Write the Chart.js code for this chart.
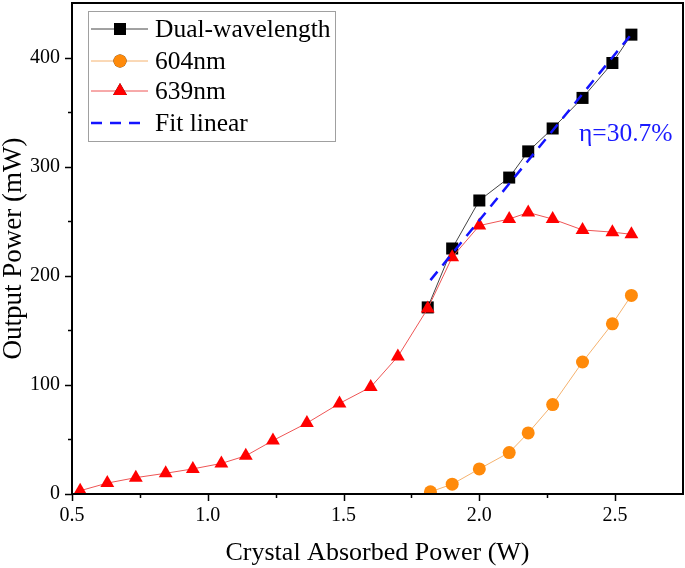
<!DOCTYPE html>
<html>
<head>
<meta charset="utf-8">
<script src="https://cdn.jsdelivr.net/npm/chart.js@4.4.1/dist/chart.umd.min.js"></script>
<style>
  html, body { margin: 0; padding: 0; background: #fff; }
  #wrap { width: 685px; height: 568px; }
</style>
</head>
<body>
<div id="wrap"><canvas id="c" width="685" height="568"></canvas></div>
<script>
// ---- data ----
const xDual = [1.81, 1.90, 2.00, 2.11, 2.18, 2.27, 2.38, 2.49, 2.56];
const pDual = [171, 225, 269, 290, 314, 335, 363, 395, 421];

const x604 = [1.82, 1.90, 2.00, 2.11, 2.18, 2.27, 2.38, 2.49, 2.56];
const p604 = [2, 9, 23, 38, 56, 82, 121, 156, 182];

const x639 = [0.53, 0.63, 0.735, 0.845, 0.945, 1.05, 1.14, 1.24, 1.365, 1.485, 1.60, 1.70, 1.81, 1.90, 2.00, 2.11, 2.18, 2.27, 2.38, 2.49, 2.56];
const p639 = [3, 10, 15, 19, 23, 28, 35, 49, 65, 83, 98, 126, 170, 217, 246, 252, 258, 252, 242, 240, 238];

const xFit = [1.82, 2.565];
const pFit = [196, 423];

const xTicks = [0.5, 1.0, 1.5, 2.0, 2.5];
const xMinorTicks = [0.75, 1.25, 1.75, 2.25];
const yTicks = [0, 100, 200, 300, 400];
const yMinorTicks = [50, 150, 250, 350];

const seriesNames = ['Dual-wavelength', '604nm', '639nm', 'Fit linear'];
const fitLabel = 'η=30.7%';

const pts = (xs, ys) => xs.map((x, i) => ({ x: x, y: ys[i] }));

const SERIF = '"Liberation Serif", "Times New Roman", serif';

const framePlugin = {
  id: 'frame',
  afterDatasetsDraw(chart) {
    const { ctx, chartArea: a, scales } = chart;
    const xs = scales.x, ys = scales.y;
    ctx.save();
    ctx.strokeStyle = '#000';
    ctx.lineWidth = 2;
    ctx.strokeRect(a.left, a.top, a.right - a.left, a.bottom - a.top);
    ctx.lineWidth = 1.5;
    ctx.beginPath();
    xTicks.forEach(v => { const px = Math.round(xs.getPixelForValue(v)) + 0.5; ctx.moveTo(px, a.bottom); ctx.lineTo(px, a.bottom + 7); });
    xMinorTicks.forEach(v => { const px = Math.round(xs.getPixelForValue(v)) + 0.5; ctx.moveTo(px, a.bottom); ctx.lineTo(px, a.bottom + 4); });
    yTicks.forEach(v => { const py = Math.round(ys.getPixelForValue(v)) + 0.5; ctx.moveTo(a.left, py); ctx.lineTo(a.left - 7, py); });
    yMinorTicks.forEach(v => { const py = Math.round(ys.getPixelForValue(v)) + 0.5; ctx.moveTo(a.left, py); ctx.lineTo(a.left - 4, py); });
    ctx.stroke();

    // annotation
    ctx.fillStyle = '#1a1aff';
    ctx.font = '25.5px ' + SERIF;
    ctx.textAlign = 'left';
    ctx.textBaseline = 'middle';
    ctx.fillText(fitLabel, 579, 134);

    // legend
    const lx = 88, ly = 11, lw = 247, lh = 130;
    ctx.fillStyle = '#fff';
    ctx.fillRect(lx, ly, lw, lh);
    ctx.strokeStyle = '#a0a0a0';
    ctx.lineWidth = 1;
    ctx.strokeRect(lx + 0.5, ly + 0.5, lw, lh);
    const rows = [29, 61, 91, 123];
    const ds = chart.data.datasets;
    rows.forEach((ry, i) => {
      const d = ds[i];
      ctx.save();
      ctx.strokeStyle = d.borderColor;
      ctx.lineWidth = d.borderWidth;
      ctx.setLineDash(d.borderDash || []);
      ctx.beginPath();
      ctx.moveTo(91, ry);
      ctx.lineTo(148, ry);
      ctx.stroke();
      ctx.restore();
      if (d.pointStyle && d.pointRadius > 0) {
        Chart.helpers.drawPoint(ctx, {
          pointStyle: d.pointStyle, radius: d.pointRadius, rotation: 0, borderWidth: 0
        }, 120, ry);
        ctx.fillStyle = d.pointBackgroundColor;
        ctx.fill();
      }
      ctx.fillStyle = '#000';
      ctx.font = '25.5px ' + SERIF;
      ctx.textAlign = 'left';
      ctx.textBaseline = 'middle';
      ctx.fillText(seriesNames[i], 155, ry + 1);
    });
    ctx.restore();
  }
};

new Chart(document.getElementById('c'), {
  type: 'scatter',
  data: {
    datasets: [
      {
        label: seriesNames[0], data: pts(xDual, pDual), showLine: true,
        borderColor: '#444', borderWidth: 1, pointStyle: 'rect', pointRadius: 8.5,
        pointBackgroundColor: '#000', pointBorderWidth: 0, order: 3
      },
      {
        label: seriesNames[1], data: pts(x604, p604), showLine: true,
        borderColor: '#f5b26e', borderWidth: 1, pointStyle: 'circle', pointRadius: 6.5,
        pointBackgroundColor: '#ff8a0a', pointBorderWidth: 0, order: 2
      },
      {
        label: seriesNames[2], data: pts(x639, p639), showLine: true,
        borderColor: '#ee5555', borderWidth: 1, pointStyle: 'triangle', pointRadius: 8,
        pointBackgroundColor: '#ff0000', pointBorderWidth: 0, order: 1
      },
      {
        label: seriesNames[3], data: pts(xFit, pFit), showLine: true,
        borderColor: '#1414ff', borderWidth: 2.5, borderDash: [11, 8], pointRadius: 0,
        pointStyle: false, order: 0
      }
    ]
  },
  options: {
    responsive: false,
    animation: false,
    devicePixelRatio: 1,
    layout: { autoPadding: false, padding: { top: 3, right: 2, left: 0, bottom: 0 } },
    plugins: { legend: { display: false }, tooltip: { enabled: false } },
    scales: {
      x: {
        type: 'linear', min: 0.5, max: 2.75,
        afterBuildTicks: s => { s.ticks = xTicks.map(v => ({ value: v })); },
        afterFit: s => { s.height = 74; s.paddingLeft = 0; s.paddingRight = 0; },
        grid: { display: false, drawTicks: false },
        border: { display: false },
        ticks: { color: '#000', font: { family: SERIF, size: 20 }, padding: 10,
                 callback: v => Number(v).toFixed(1), maxRotation: 0 },
        title: { display: true, text: 'Crystal Absorbed Power (W)', color: '#000',
                 font: { family: SERIF, size: 26, lineHeight: 1 }, padding: { top: 0, bottom: 2 } }
      },
      y: {
        type: 'linear', min: 0, max: 450,
        afterBuildTicks: s => { s.ticks = yTicks.map(v => ({ value: v })); },
        afterFit: s => { s.width = 72; s.paddingTop = 0; s.paddingBottom = 0; },
        grid: { display: false, drawTicks: false },
        border: { display: false },
        ticks: { color: '#000', font: { family: SERIF, size: 20 }, padding: 12,
                 callback: v => String(v) },
        title: { display: true, text: 'Output Power (mW)', color: '#000',
                 font: { family: SERIF, size: 27, lineHeight: 1 }, padding: { top: 0, bottom: 0 } }
      }
    }
  },
  plugins: [framePlugin]
});
</script>
</body>
</html>
